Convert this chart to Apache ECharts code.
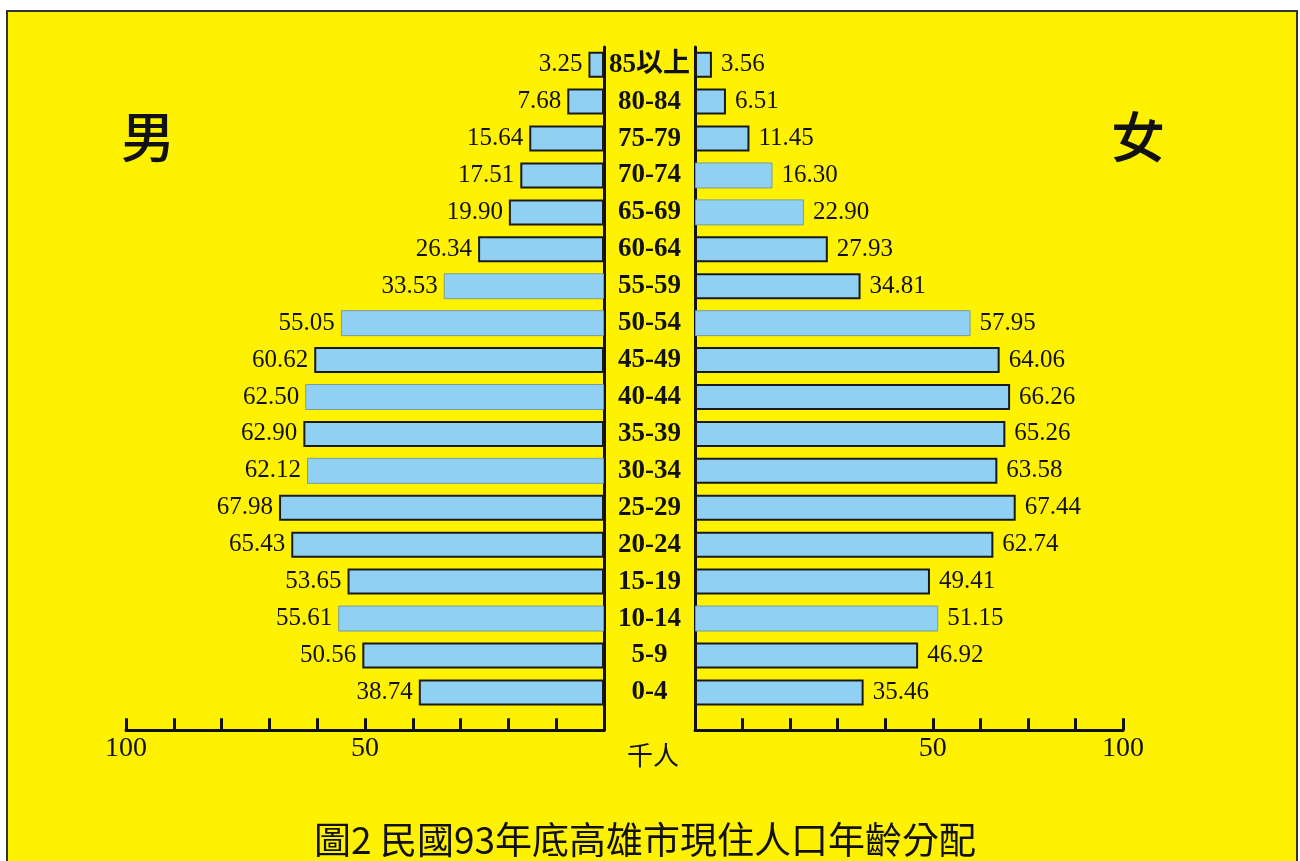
<!DOCTYPE html>
<html>
<head>
<meta charset="utf-8">
<script src="https://cdn.jsdelivr.net/npm/echarts@6/dist/echarts.min.js"></script>
<style>
  html, body { margin: 0; padding: 0; background: #ffffff; }
  #frame { position: absolute; left: 6px; top: 10px; width: 1292px; height: 870px; box-sizing: border-box;
           background: #FFF200; border: 2px solid #333; }
  #chart { position: absolute; left: 0; top: 0; width: 1300px; height: 861px; }
</style>
</head>
<body>
<div id="frame"></div>
<div id="chart"></div>
<script>
// ---- data ----
const categories = ['85以上','80-84','75-79','70-74','65-69','60-64','55-59','50-54','45-49','40-44','35-39','30-34','25-29','20-24','15-19','10-14','5-9','0-4'];
const maleValues   = [3.25, 7.68, 15.64, 17.51, 19.90, 26.34, 33.53, 55.05, 60.62, 62.50, 62.90, 62.12, 67.98, 65.43, 53.65, 55.61, 50.56, 38.74];
const femaleValues = [3.56, 6.51, 11.45, 16.30, 22.90, 27.93, 34.81, 57.95, 64.06, 66.26, 65.26, 63.58, 67.44, 62.74, 49.41, 51.15, 46.92, 35.46];
const leftTickLabels  = { 100: '100', 50: '50' };
const rightTickLabels = { 50: '50', 90: '100' };
const maleThinEdge   = ['55-59', '50-54', '40-44', '30-34', '10-14'];
const femaleThinEdge = ['70-74', '65-69', '50-54', '10-14'];
const titleText = '圖2 民國93年底高雄市現住人口年齡分配';

const serif = "'Liberation Serif','Noto Sans CJK TC',serif";
const cjk = "'Noto Sans CJK TC','Noto Sans CJK SC',sans-serif";
const barFill = '#8FD0F3';

function items(values, thin) {
  return values.map((v, i) => ({
    value: v,
    itemStyle: thin.indexOf(categories[i]) >= 0
      ? { color: barFill, borderColor: '#7a9c98', borderWidth: 1 }
      : { color: barFill, borderColor: '#1a1a1a', borderWidth: 2 }
  }));
}

const chart = echarts.init(document.getElementById('chart'), null, { renderer: 'canvas' });

const axisLineStyle = { color: '#111', width: 3 };
const barTop = 46.24, barHeight = 664.6;

const option = {
  animation: false,
  backgroundColor: 'transparent',
  grid: [
    { left: 126, top: barTop, width: 478, height: barHeight },
    { left: 695, top: barTop, width: 428, height: barHeight },
    { left: 126, top: 47, width: 478, height: 683 },
    { left: 695, top: 47, width: 428, height: 683 }
  ],
  xAxis: [
    {
      gridIndex: 0, type: 'value', min: 0, max: 100, interval: 10, inverse: true,
      position: 'bottom', offset: 19.4,
      axisLine: { show: true, onZero: false, lineStyle: axisLineStyle },
      axisTick: { show: true, inside: true, length: 12, lineStyle: { color: '#111', width: 3 } },
      axisLabel: { show: true, margin: 4, color: '#111', fontFamily: serif, fontSize: 28,
        formatter: v => leftTickLabels[v] || '' , showMinLabel: true, showMaxLabel: true },
      splitLine: { show: false }
    },
    {
      gridIndex: 1, type: 'value', min: 0, max: 90, interval: 10,
      position: 'bottom', offset: 19.4,
      axisLine: { show: true, onZero: false, lineStyle: axisLineStyle },
      axisTick: { show: true, inside: true, length: 12, lineStyle: { color: '#111', width: 3 } },
      axisLabel: { show: true, margin: 4, color: '#111', fontFamily: serif, fontSize: 28,
        formatter: v => rightTickLabels[v] || '', showMinLabel: true, showMaxLabel: true },
      splitLine: { show: false }
    },
    { gridIndex: 2, type: 'value', show: false, min: 0, max: 1 },
    { gridIndex: 3, type: 'value', show: false, min: 0, max: 1 }
  ],
  yAxis: [
    {
      gridIndex: 0, type: 'category', data: categories, inverse: true, position: 'right',
      axisLine: { show: false }, axisTick: { show: false }, axisLabel: { show: false }, splitLine: { show: false }
    },
    {
      gridIndex: 1, type: 'category', data: categories, inverse: true, position: 'left',
      axisLine: { show: false }, axisTick: { show: false },
      axisLabel: { show: true, align: 'center', margin: 45.5, color: '#111', fontFamily: serif,
        fontWeight: 'bold', fontSize: 27 },
      splitLine: { show: false }
    },
    {
      gridIndex: 2, type: 'value', position: 'right', min: 0, max: 1,
      axisLine: { show: true, onZero: false, lineStyle: axisLineStyle }, axisTick: { show: false },
      axisLabel: { show: false }, splitLine: { show: false }
    },
    {
      gridIndex: 3, type: 'value', position: 'left', min: 0, max: 1,
      axisLine: { show: true, onZero: false, lineStyle: axisLineStyle }, axisTick: { show: false },
      axisLabel: { show: false }, splitLine: { show: false }
    }
  ],
  series: [
    {
      name: '男', type: 'bar', xAxisIndex: 0, yAxisIndex: 0, barWidth: 26,
      data: items(maleValues, maleThinEdge),
      label: { show: true, position: 'left', distance: 6, color: '#111', fontFamily: serif, fontSize: 25,
        formatter: p => p.value.toFixed(2) }
    },
    {
      name: '女', type: 'bar', xAxisIndex: 1, yAxisIndex: 1, barWidth: 26,
      data: items(femaleValues, femaleThinEdge),
      label: { show: true, position: 'right', distance: 9, color: '#111', fontFamily: serif, fontSize: 25,
        formatter: p => p.value.toFixed(2) }
    }
  ],
  graphic: [
    { type: 'text', x: 148, y: 137, style: { text: '男', fill: '#111', font: '500 54px ' + cjk, align: 'center', verticalAlign: 'middle' } },
    { type: 'text', x: 1138, y: 137, style: { text: '女', fill: '#111', font: '500 54px ' + cjk, align: 'center', verticalAlign: 'middle' } },
    { type: 'text', x: 653, y: 755, style: { text: '千人', fill: '#111', font: '26px ' + cjk, align: 'center', verticalAlign: 'middle' } },
    { type: 'text', x: 645, y: 840, style: { text: titleText, fill: '#111', font: '37px ' + cjk, align: 'center', verticalAlign: 'middle' } }
  ]
};
chart.setOption(option);
</script>
</body>
</html>
